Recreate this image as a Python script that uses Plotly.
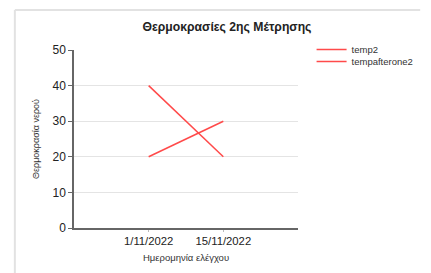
import plotly.graph_objects as go

dates = ["1/11/2022", "15/11/2022"]
temp2 = [40, 20]
tempafterone2 = [20, 30]
y_ticks = [0, 10, 20, 30, 40, 50]

# page has an 8px body margin; work in page coordinates and convert
OFF = 8
W, H = 431 - OFF, 273 - OFF
L, T = 74 - OFF, 50 - OFF
R = W - (305 - OFF)
B = H - (228 - OFF)
pw, ph = W - L - R, H - T - B

def px(x):
    return (x - OFF - L) / pw

def py(y):
    return (H - B - (y - OFF)) / ph

fig = go.Figure()
red = "#ff4a4a"
fig.add_trace(go.Scatter(x=dates, y=temp2, mode="lines", name="temp2",
                         line=dict(color=red, width=1.5), legend="legend"))
fig.add_trace(go.Scatter(x=dates, y=tempafterone2, mode="lines", name="tempafterone2",
                         line=dict(color=red, width=1.5), legend="legend2"))

leg_common = dict(xanchor="left", yanchor="top", font=dict(size=9.5, color="#333333"),
                  bgcolor="rgba(0,0,0,0)", itemwidth=30)

fig.update_layout(
    width=W, height=H,
    margin=dict(l=L, r=R, t=T, b=B),
    paper_bgcolor="white", plot_bgcolor="white",
    font=dict(family="Liberation Sans, Arial, sans-serif", color="#333333"),
    title=dict(text="<b>Θερμοκρασίες 2ης Μέτρησης</b>", x=(227 - OFF) / W, xanchor="center",
               y=1 - (27 - OFF) / H, yanchor="middle", font=dict(size=12.2, color="#222222")),
    showlegend=True,
    legend=dict(x=px(319), y=py(35), **leg_common),
    legend2=dict(x=px(319), y=py(47), **leg_common),
    xaxis=dict(type="category", range=[-1, 2], showgrid=False,
               showline=True, linecolor="#666666", linewidth=1.5,
               ticks="outside", ticklen=2, tickcolor="#bbbbbb",
               tickfont=dict(size=11.3, color="#222222"),
               title=dict(text="Ημερομηνία ελέγχου", font=dict(size=9.5, color="#333333"), standoff=8)),
    yaxis=dict(range=[0, 50], tickvals=y_ticks, showgrid=True, gridcolor="#e4e4e4",
               gridwidth=1.2, showline=True, linecolor="#666666", linewidth=1.5,
               ticks="outside", ticklen=4, tickcolor="#666666", zeroline=False,
               tickfont=dict(size=12, color="#222222"),
               title=dict(text="Θερμοκρασία νερού", font=dict(size=9, color="#333333"), standoff=11)),
    shapes=[
        dict(type="line", xref="paper", yref="paper", x0=px(13), x1=px(13), y0=py(10), y1=py(273),
             line=dict(color="#e2e2e2", width=2)),
        dict(type="line", xref="paper", yref="paper", x0=px(13), x1=px(431), y0=py(10), y1=py(10),
             line=dict(color="#e2e2e2", width=2)),
    ],
)

fig.write_html("out.html")
